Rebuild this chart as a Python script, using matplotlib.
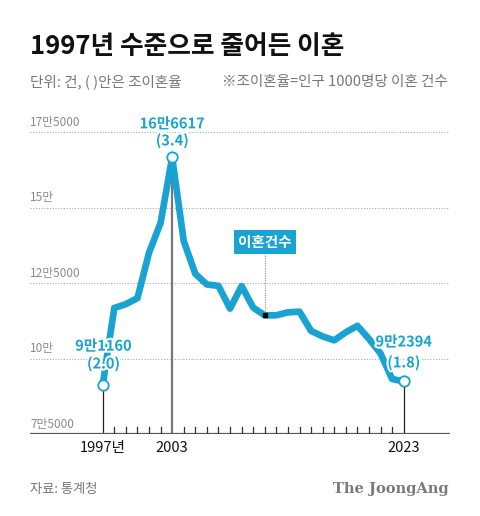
import matplotlib
matplotlib.use("Agg")
import matplotlib.pyplot as plt
import matplotlib.patheffects as pe

plt.rcParams['font.family'] = ['Noto Sans CJK KR', 'DejaVu Sans']

years = list(range(1997, 2024))
divorces = [91160, 116727, 118014, 119982, 135014, 144910, 166617, 138932,
            128035, 124524, 124072, 116535, 123999, 116858, 114284, 114316,
            115292, 115510, 109153, 107328, 106032, 108684, 110831, 106500,
            101673, 93232, 92394]
ytick_vals = [75000, 100000, 125000, 150000, 175000]
ytick_labels = ['7만5000', '10만', '12만5000', '15만', '17만5000']
xlabel_years = [1997, 2003, 2023]
xlabel_texts = ['1997년', '2003', '2023']
callouts = {1997: ('9만1160', '(2.0)'), 2003: ('16만6617', '(3.4)'), 2023: ('9만2394', '(1.8)')}

BLUE = '#18a3d2'

fig = plt.figure(figsize=(4.8, 5.16), dpi=100)
ax = fig.add_axes([0.0625, 0.1589, 0.875, 0.6144])
ax.set_xlim(1990.72, 2027.0)
ax.set_ylim(75000, 180000)
for s in ax.spines.values():
    s.set_visible(False)
ax.set_xticks([])
ax.set_yticks([])

# gridlines + labels
for v, lab in zip(ytick_vals, ytick_labels):
    if v > 75000:
        ax.axhline(v, color='#aaaaaa', lw=0.8, ls=(0, (1, 1.5)), zorder=1)
    ax.annotate(lab, xy=(0, v), xycoords=('axes fraction', 'data'),
                xytext=(0, 2.5), textcoords='offset points', ha='left', va='bottom',
                fontsize=8.5, color='#8a8a8a')

# baseline
ax.axhline(75000, color='#555555', lw=1.6, zorder=3)
# small ticks
for y in years:
    if y in xlabel_years:
        continue
    ax.plot([y, y], [75000, 77300], color='#333333', lw=0.9, zorder=3)

# vertical lines
peak_i = years.index(2003)
ax.plot([2003, 2003], [75000, divorces[peak_i]], color='#777777', lw=1.6, zorder=2)
for y in (1997, 2023):
    i = years.index(y)
    ax.plot([y, y], [75000, divorces[i]], color='#222222', lw=0.9, zorder=2)

# main line
ax.plot(years, divorces, color=BLUE, lw=4.8, solid_joinstyle='round',
        solid_capstyle='butt', zorder=4)

# marker circles
for y in (1997, 2003, 2023):
    i = years.index(y)
    ax.plot([y], [divorces[i]], 'o', ms=7.5, mfc='white', mec=BLUE, mew=1.3, zorder=6)

# callouts
stroke = [pe.withStroke(linewidth=3, foreground='white')]
offs = {1997: (0.5, 28.5, 15.6), 2003: (0, 24.5, 12.2), 2023: (0, 28.8, 13.7)}
for y, (l1, l2) in callouts.items():
    i = years.index(y)
    dx, o1, o2 = offs[y]
    ax.annotate(l1, xy=(y, divorces[i]), xytext=(dx, o1), textcoords='offset points',
                ha='center', va='center', fontsize=10.5, fontweight='bold', color=BLUE,
                path_effects=stroke, zorder=7)
    ax.annotate(l2, xy=(y, divorces[i]), xytext=(dx, o2), textcoords='offset points',
                ha='center', va='center', fontsize=10.5, fontweight='bold', color=BLUE,
                path_effects=stroke, zorder=7)

# series label box
li = years.index(2011)
ax.plot([2011, 2011], [divorces[li], 135500], color='#888888', lw=0.8, ls=(0, (1, 1.2)), zorder=5)
ax.plot([2011], [divorces[li]], 's', ms=2.5, color='black', zorder=6)
ax.text(2011, 138600, '이혼건수', ha='center', va='center', fontsize=10.5,
        fontweight='bold', color='white', zorder=7,
        bbox=dict(boxstyle='square,pad=0.28', fc=BLUE, ec='none'))

# x labels
for y, t in zip(xlabel_years, xlabel_texts):
    ax.annotate(t, xy=(y, 75000), xytext=(0, -5), textcoords='offset points',
                ha='center', va='top', fontsize=10.5, color='#111111')

# header/footer
fig.text(30/480, 1-47/516, '1997년 수준으로 줄어든 이혼', ha='left', va='center',
         fontsize=18.5, fontweight='bold', color='#111111')
fig.text(30/480, 1-82/516, '단위: 건, ( )안은 조이혼율', ha='left', va='center',
         fontsize=10.5, color='#777777')
fig.text(448/480, 1-82/516, '※조이혼율=인구 1000명당 이혼 건수', ha='right', va='center',
         fontsize=10.5, color='#777777')
fig.text(30/480, 1-489/516, '자료: 통계청', ha='left', va='center',
         fontsize=9.5, color='#777777')
fig.text(449/480, 1-489/516, 'The JoongAng', ha='right', va='center',
         fontsize=10.5, fontweight='bold', color='#7a7a7a', family='DejaVu Serif')

fig.savefig('out.png', dpi=100)
